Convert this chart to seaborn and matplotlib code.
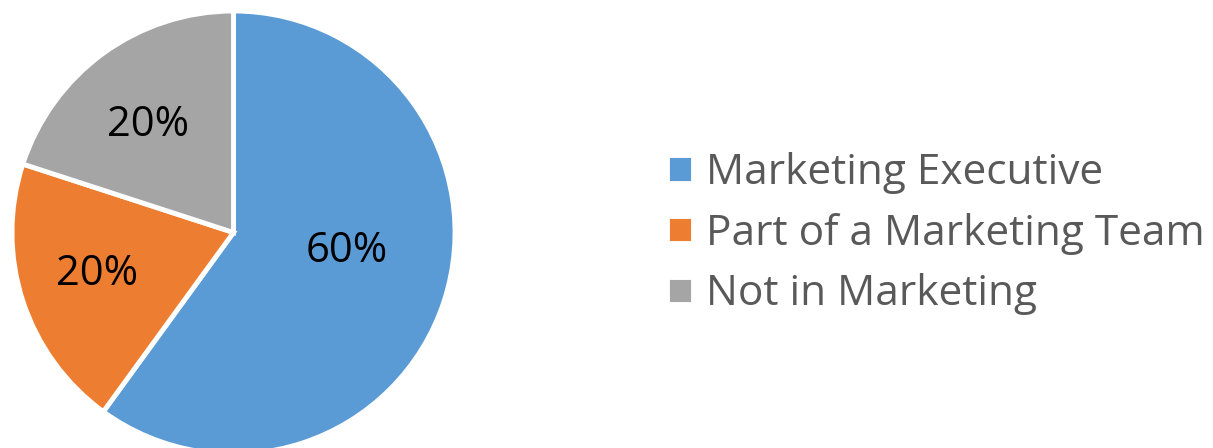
import matplotlib
matplotlib.use("Agg")
import matplotlib.pyplot as plt
import seaborn as sns

# Survey breakdown of respondents' roles
categories = ["Marketing Executive", "Part of a Marketing Team", "Not in Marketing"]
shares = [60, 20, 20]
slice_colors = ["#5B9BD5", "#ED7D31", "#A5A5A5"]

# Label anchor points inside each slice, in units of the pie radius
label_offsets = [(0.51, -0.082), (-0.614, -0.188), (-0.386, 0.485)]

sns.set_style("white")
plt.rcParams["font.family"] = ["Open Sans", "DejaVu Sans"]

W, H = 1213, 448
fig = plt.figure(figsize=(W / 100, H / 100), dpi=100)

# Pie axes: centre at (233.5, 232.5) px from top-left, radius 221.5 px
cx, cy, r = 233.5, 232.5, 221.5
ax = fig.add_axes([(cx - r) / W, (H - cy - r) / H, 2 * r / W, 2 * r / H])

wedges, texts, autotexts = ax.pie(
    shares,
    colors=sns.color_palette(slice_colors),
    startangle=90,
    counterclock=False,
    autopct=lambda p: f"{p:.0f}%",
    radius=1.0,
    wedgeprops=dict(edgecolor="white", linewidth=3.5),
    textprops=dict(fontsize=30, color="black"),
)
for t, (dx, dy) in zip(autotexts, label_offsets):
    t.set_position((dx, dy))

ax.set_xlim(-1, 1)
ax.set_ylim(-1, 1)
ax.set_aspect("equal")
ax.axis("off")

fig.legend(
    wedges,
    categories,
    loc="center left",
    bbox_to_anchor=(667 / W, 1 - 233.5 / H),
    frameon=False,
    borderpad=0,
    borderaxespad=0,
    fontsize=30.5,
    labelcolor="#595959",
    handlelength=0.61,
    handleheight=0.61,
    handletextpad=0.3,
    labelspacing=0.44,
)

fig.savefig("out.png", dpi=100)
